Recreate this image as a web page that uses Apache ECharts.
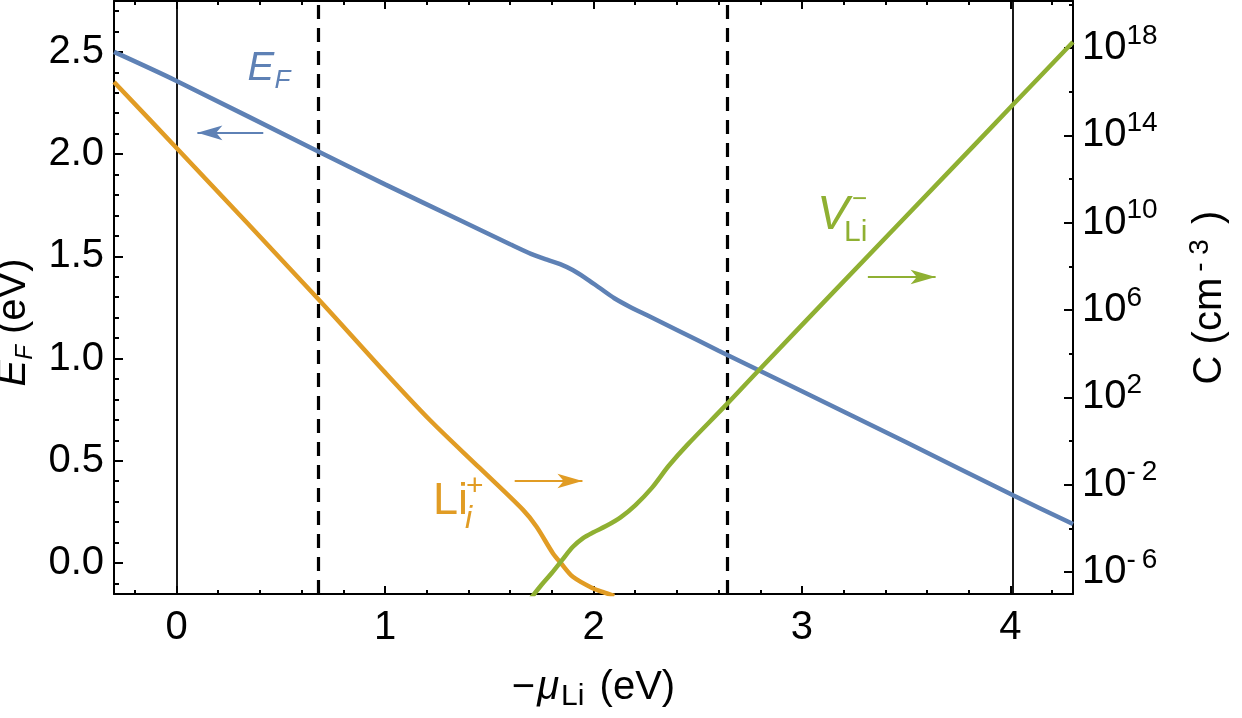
<!DOCTYPE html>
<html><head><meta charset="utf-8">
<script src="https://cdn.jsdelivr.net/npm/echarts@6/dist/echarts.min.js"></script>
<style>html,body{margin:0;padding:0;background:#fff}#c{width:1242px;height:718px}</style>
</head><body><div id="c"></div>
<script>
// ---- data ----
const efX   = [-0.3, 0, 0.675, 1.0, 1.36, 1.60, 1.70, 1.78, 1.84, 1.90, 1.96, 2.03, 2.10, 2.18, 2.26, 2.4, 2.6, 3.0, 3.5, 4.015, 4.3];
const efVal = [2.50, 2.358, 2.015, 1.852, 1.676, 1.559, 1.512, 1.482, 1.462, 1.433, 1.395, 1.345, 1.295, 1.250, 1.210, 1.140, 1.038, 0.840, 0.590, 0.330, 0.190];

const liX    = [-0.3, 0, 0.675, 1.0, 1.215, 1.455, 1.662, 1.726, 1.805, 1.845, 1.901, 1.997, 2.053, 2.1];
const liLogC = [16.44, 13.42, 6.55, 3.14, 0.96, -1.25, -3.16, -3.92, -5.14, -5.61, -6.22, -6.75, -6.95, -7.1];

const vX    = [1.70, 1.75, 1.80, 1.85, 1.90, 1.95, 2.00, 2.06, 2.13, 2.20, 2.28, 2.36, 2.45, 2.636, 2.785, 3.115, 3.813, 4.015, 4.3];
const vLogC = [-7.2, -6.6, -6.05, -5.45, -4.86, -4.45, -4.18, -3.9, -3.5, -2.95, -2.15, -1.15, -0.18, 1.65, 3.16, 6.46, 13.41, 15.43, 18.27];

const limitLines  = [0, 4.015];
const dashedLines = [0.675, 2.636];

const xTicks    = [0, 1, 2, 3, 4];
const xMinor    = [-0.2, 0.2, 0.4, 0.6, 0.8, 1.2, 1.4, 1.6, 1.8, 2.2, 2.4, 2.6, 2.8, 3.2, 3.4, 3.6, 3.8, 4.2];
const efTicks   = [0, 0.5, 1, 1.5, 2, 2.5];
const efMinor   = [-0.1, 0.1, 0.2, 0.3, 0.4, 0.6, 0.7, 0.8, 0.9, 1.1, 1.2, 1.3, 1.4, 1.6, 1.7, 1.8, 1.9, 2.1, 2.2, 2.3, 2.4, 2.6, 2.7];
const logCTicks = [-6, -2, 2, 6, 10, 14, 18];
const logCMinor = [-4, 0, 4, 8, 12, 16, 20];

// annotation arrows: [xTail, xTip, y] in data coords of the owning series' axes
const efArrow = [0.416, 0.100, 2.104];
const liArrow = [1.622, 1.947, -1.835];
const vArrow  = [3.316, 3.641, 7.51];
// label anchors (left-baseline of the main letter), data coords
const efLabelAt = [0.340, 2.348];
const liLabelAt = [1.230, -3.48];
const vLabelAt  = [3.072, 9.57];

// ---- styling ----
const FONT = '"Liberation Sans", Arial, Helvetica, sans-serif';
const BLUE = '#5E81B5', ORANGE = '#E19C24', GREEN = '#8FB032';
const X_RANGE = [-0.3, 4.3], EF_RANGE = [-0.152, 2.749], LOGC_RANGE = [-7.01, 20.15];

const zip = (xs, ys) => xs.map((x, i) => [x, ys[i]]);
const blk = '#000';
const frameLine = {show: true, onZero: false, lineStyle: {color: blk, width: 2}};
const noLine = {show: false, onZero: false};
const tick = (vals, len) => ({show: true, inside: true, length: len, customValues: vals, lineStyle: {color: blk, width: 2}});

function xAx(pos, vals, len, opts) {
  return Object.assign({type: 'value', position: pos, min: X_RANGE[0], max: X_RANGE[1],
    axisLine: noLine, axisTick: tick(vals, len), axisLabel: {show: false}, splitLine: {show: false}}, opts || {});
}
function yAx(pos, range, vals, len, opts) {
  return Object.assign({type: 'value', position: pos, min: range[0], max: range[1],
    axisLine: noLine, axisTick: tick(vals, len), axisLabel: {show: false}, splitLine: {show: false}}, opts || {});
}

function arrowLine(a, color) {
  return {
    silent: true, animation: false, symbol: ['none', 'arrow'], symbolSize: [11, 25],
    label: {show: false}, lineStyle: {color: color, width: 2, type: 'solid'},
    data: [[{coord: [a[0], a[2]]}, {coord: [a[1], a[2]]}]]
  };
}

const chart = echarts.init(document.getElementById('c'), null, {renderer: 'canvas'});
const option = {
  animation: false,
  backgroundColor: '#fff',
  grid: {left: 114, right: 169, top: 1, bottom: 124, containLabel: false, outerBoundsMode: 'none'},
  xAxis: [
    xAx('bottom', xTicks, 8, {
      axisLine: frameLine,
      axisLabel: {show: true, customValues: xTicks, fontSize: 40, fontFamily: FONT, color: blk, margin: 14,
        formatter: v => String(v)},
      name: '{m|\u2212}{i|\u03bc}{s|Li}{n| (eV)}', nameLocation: 'middle', nameGap: 70,
      nameTextStyle: {fontFamily: FONT, color: blk, rich: {
        m: {fontSize: 40, fontFamily: FONT, color: blk, lineHeight: 48, padding: [0, 2, 0, 0]},
        n: {fontSize: 40, fontFamily: FONT, color: blk, lineHeight: 48},
        i: {fontSize: 40, fontFamily: FONT, fontStyle: 'italic', color: blk, lineHeight: 48},
        s: {fontSize: 30, fontFamily: FONT, color: blk, lineHeight: 36, verticalAlign: 'bottom', padding: [0, 4, 0, 2]}
      }}
    }),
    xAx('bottom', xMinor, 4),
    xAx('top', xTicks, 8, {axisLine: frameLine}),
    xAx('top', xMinor, 4)
  ],
  yAxis: [
    yAx('left', EF_RANGE, efTicks, 9, {
      axisLine: frameLine,
      axisLabel: {show: true, customValues: efTicks, fontSize: 40, fontFamily: FONT, color: blk, margin: 10,
        formatter: v => v.toFixed(1)},
      name: '{i|E}{s|F}{n| (eV)}', nameLocation: 'middle', nameRotate: 90, nameGap: 72,
      nameTextStyle: {fontFamily: FONT, color: blk, padding: [0, 50, 0, 0], rich: {
        n: {fontSize: 40, fontFamily: FONT, color: blk, lineHeight: 48},
        i: {fontSize: 40, fontFamily: FONT, fontStyle: 'italic', color: blk, lineHeight: 48},
        s: {fontSize: 24, fontFamily: FONT, fontStyle: 'italic', color: blk, lineHeight: 30, verticalAlign: 'bottom'}
      }}
    }),
    yAx('left', EF_RANGE, efMinor, 5),
    yAx('right', LOGC_RANGE, logCTicks, 9, {
      axisLine: frameLine,
      axisLabel: {show: true, customValues: logCTicks, margin: 9, align: 'left',
        formatter: v => '{b|10}' + (v < 0 ? '{s|-}{t|' + (-v) + '}' : '{s|' + v + '}'),
        rich: {
          b: {fontSize: 40, fontFamily: FONT, color: blk, lineHeight: 52},
          s: {fontSize: 28, fontFamily: FONT, color: blk, lineHeight: 22, verticalAlign: 'top'},
          t: {fontSize: 28, fontFamily: FONT, color: blk, lineHeight: 22, verticalAlign: 'top', padding: [0, 0, 0, 6]}
        }},
      name: '{n|C (cm}{p|- 3}{n| )}', nameLocation: 'middle', nameRotate: 90, nameGap: 113,
      nameTextStyle: {fontFamily: FONT, color: blk, rich: {
        n: {fontSize: 40, fontFamily: FONT, color: blk, lineHeight: 48},
        p: {fontSize: 28, fontFamily: FONT, color: blk, lineHeight: 24, verticalAlign: 'top', padding: [0, 4, 0, 6]}
      }}
    }),
    yAx('right', LOGC_RANGE, logCMinor, 4)
  ],
  series: [
    {
      name: 'E_F', type: 'line', xAxisIndex: 0, yAxisIndex: 0, data: zip(efX, efVal),
      smooth: 0.3, showSymbol: false, clip: true, z: 3,
      lineStyle: {color: BLUE, width: 4.5}, itemStyle: {color: BLUE},
      markLine: {
        silent: true, animation: false, symbol: ['none', 'none'], label: {show: false}, z: 2,
        data: limitLines.map(v => ({xAxis: v, lineStyle: {color: blk, width: 1.8, type: 'solid'}}))
          .concat(dashedLines.map(v => ({xAxis: v, lineStyle: {color: blk, width: 3.2, type: [14, 9]}})))
      }
    },
    {
      name: 'Li_i+', type: 'line', xAxisIndex: 0, yAxisIndex: 2, data: zip(liX, liLogC),
      smooth: 0.3, showSymbol: false, clip: true, z: 3,
      lineStyle: {color: ORANGE, width: 4.5}, itemStyle: {color: ORANGE},
      markLine: arrowLine(liArrow, ORANGE)
    },
    {
      name: 'V_Li-', type: 'line', xAxisIndex: 0, yAxisIndex: 2, data: zip(vX, vLogC),
      smooth: 0.3, showSymbol: false, clip: true, z: 3,
      lineStyle: {color: GREEN, width: 4.5}, itemStyle: {color: GREEN},
      markLine: arrowLine(vArrow, GREEN)
    },
    {
      name: 'arrowEF', type: 'line', xAxisIndex: 0, yAxisIndex: 0, data: [],
      markLine: arrowLine(efArrow, BLUE)
    }
  ]
};
chart.setOption(option);

// ---- text annotations anchored to data coordinates ----
function txt(text, p, dx, dy, size, italic, color) {
  return {
    type: 'text', x: p[0] + dx, y: p[1] + dy - 0.3465 * size, silent: true, z: 10,
    style: {text: text, font: (italic ? 'italic ' : '') + size + 'px ' + FONT, fill: color,
      align: 'left', verticalAlign: 'middle', textAlign: 'left', textVerticalAlign: 'middle'}
  };
}
const pEF = chart.convertToPixel({xAxisIndex: 0, yAxisIndex: 0}, efLabelAt);
const pLi = chart.convertToPixel({xAxisIndex: 0, yAxisIndex: 2}, liLabelAt);
const pV  = chart.convertToPixel({xAxisIndex: 0, yAxisIndex: 2}, vLabelAt);
chart.setOption({graphic: [
  txt('E', pEF, 0, 0, 40, true, BLUE),
  txt('F', pEF, 27, 7, 26, true, BLUE),
  txt('Li', pLi, 0, 0, 45, false, ORANGE),
  txt('i', pLi, 32, 13, 32, true, ORANGE),
  txt('+', pLi, 33, -20, 30, false, ORANGE),
  txt('V', pV, 0, 0, 48, true, GREEN),
  txt('Li', pV, 27, 11, 30, false, GREEN),
  txt('\u2212', pV, 35, -23, 26, false, GREEN)
]});
</script>
</body></html>
